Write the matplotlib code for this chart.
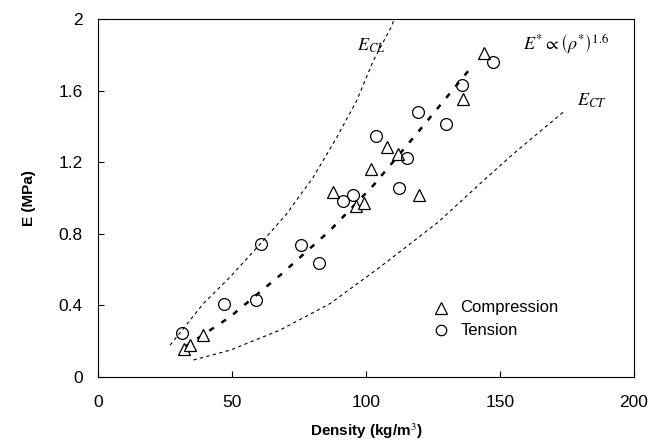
import numpy as np
import matplotlib
matplotlib.use("Agg")
import matplotlib.pyplot as plt

plt.rcParams['font.family'] = ['Liberation Sans', 'DejaVu Sans']
plt.rcParams['mathtext.fontset'] = 'stix'

# compression (triangles)
comp_density = [32.2, 34.3, 39.1, 87.8, 96.1, 99.3, 101.9, 107.7, 111.9, 119.8, 136.1, 144.1]
comp_E = [0.154, 0.178, 0.232, 1.036, 0.953, 0.971, 1.160, 1.283, 1.246, 1.014, 1.552, 1.812]

# tension (circles)
tens_density = [31.2, 47.1, 59.0, 60.9, 75.6, 82.5, 91.3, 95.3, 103.7, 112.4, 115.2, 119.5, 130.0, 136.0, 147.3]
tens_E = [0.247, 0.408, 0.429, 0.743, 0.735, 0.637, 0.986, 1.018, 1.348, 1.055, 1.222, 1.478, 1.413, 1.630, 1.760]

# fit curve E* ~ rho^1.6
fit_density = [32.5, 49.3, 67.9, 86.6, 102.7, 121.4, 139.7]
fit_E = [0.169, 0.336, 0.568, 0.819, 1.070, 1.404, 1.738]

# upper bound E_CL
ecl_density = [26.9, 39.3, 49.3, 60.4, 70.4, 80.3, 89.1, 96.5, 102.7, 109.6, 110.5]
ecl_E = [0.178, 0.410, 0.559, 0.741, 0.912, 1.116, 1.339, 1.543, 1.766, 1.961, 2.0]

# lower bound E_CT
ect_density = [35.6, 49.3, 67.9, 86.6, 105.2, 117.6, 126.9, 142.5, 154.9, 174.0]
ect_E = [0.095, 0.150, 0.262, 0.410, 0.614, 0.757, 0.865, 1.079, 1.246, 1.485]

fig = plt.figure(figsize=(6.5, 4.46), dpi=100)
ax = fig.add_axes([0.1508, 0.1547, 0.8246, 0.8027])

ax.plot(ecl_density, ecl_E, color='black', lw=0.8, dashes=(3, 3))
ax.plot(ect_density, ect_E, color='black', lw=0.8, dashes=(3, 3))
ax.plot(fit_density, fit_E, color='black', lw=1.8, dashes=(2.2, 3.6))

ax.plot(comp_density, comp_E, '^', ms=9, mfc='white', mec='black', mew=0.9, ls='none')
ax.plot(tens_density, tens_E, 'o', ms=8.5, mfc='none', mec='black', mew=0.9, ls='none')

ax.text(96.6, 1.85, r'$E_{CL}$', fontsize=13, va='center')
ax.text(158.6, 1.855, r'$E^{*}\propto\left(\rho^{*}\right)^{1.6}$', fontsize=13, va='center')
ax.text(178.6, 1.543, r'$E_{CT}$', fontsize=13, va='center')

# legend drawn by hand in data space
ax.plot([128], [0.388], '^', ms=8, mfc='white', mec='black', mew=0.9)
ax.plot([128], [0.262], 'o', ms=7.5, mfc='none', mec='black', mew=0.9)
ax.text(135.3, 0.388, 'Compression', fontsize=12, va='center')
ax.text(135.3, 0.262, 'Tension', fontsize=12, va='center')

ax.set_xlim(0, 200)
ax.set_ylim(0, 2)
ax.set_xticks([0, 50, 100, 150, 200])
ax.set_yticks([0, 0.4, 0.8, 1.2, 1.6, 2])
ax.set_yticklabels(['0', '0.4', '0.8', '1.2', '1.6', '2'])
ax.tick_params(direction='in', length=4, labelsize=12.5, pad=13)
ax.tick_params(axis='y', pad=11)

ax.set_xlabel('Density (kg/m$^3$)', fontsize=11, fontweight='bold', labelpad=8)
ax.set_ylabel('E (MPa)', fontsize=11, fontweight='bold', labelpad=16)

fig.savefig('out.png', dpi=100)
